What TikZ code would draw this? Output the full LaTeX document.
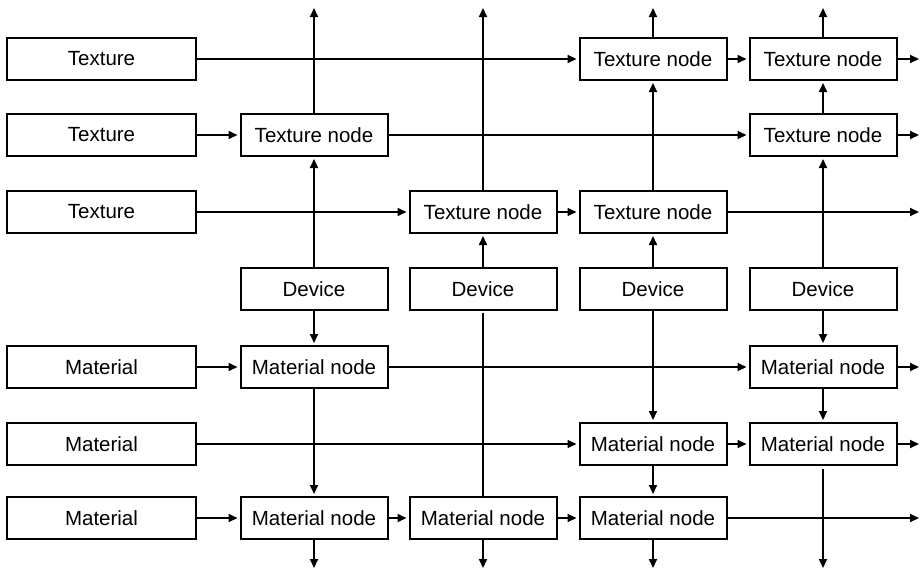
\documentclass[tikz,border=0pt]{standalone}
\usepackage{fontspec}
\setmainfont{Liberation Sans}
\usetikzlibrary{arrows.meta}
\begin{document}
\begin{tikzpicture}[x=1pt,y=-1pt,
  box/.style={draw,line width=2pt,minimum height=42pt,inner sep=0pt,font=\fontsize{20.5}{24}\selectfont},
  src/.style={box,minimum width=189pt},
  nd/.style={box,minimum width=147pt},
  conn/.style={line width=2pt,-{Triangle[length=9pt,width=8pt]},shorten >=2pt},
  plain/.style={line width=2pt}]
\useasboundingbox (0,0) rectangle (921,573);
% source boxes
\node[src] (s1) at (101.5,59) {Texture};
\node[src] (s2) at (101.5,135) {Texture};
\node[src] (s3) at (101.5,212) {Texture};
\node[src] (s5) at (101.5,367) {Material};
\node[src] (s6) at (101.5,444) {Material};
\node[src] (s7) at (101.5,518) {Material};
% texture nodes
\node[nd] (t31) at (653,59) {Texture node};
\node[nd] (t41) at (823,59) {Texture node};
\node[nd] (t12) at (314,135) {Texture node};
\node[nd] (t42) at (823,135) {Texture node};
\node[nd] (t23) at (483,212) {Texture node};
\node[nd] (t33) at (653,212) {Texture node};
% devices
\node[nd] (d1) at (314,289) {Device};
\node[nd] (d2) at (483,289) {Device};
\node[nd] (d3) at (653,289) {Device};
\node[nd] (d4) at (823,289) {Device};
% material nodes
\node[nd] (m15) at (314,367) {Material node};
\node[nd] (m45) at (823,367) {Material node};
\node[nd] (m36) at (653,444) {Material node};
\node[nd] (m46) at (823,444) {Material node};
\node[nd] (m17) at (314,518) {Material node};
\node[nd] (m27) at (483,518) {Material node};
\node[nd] (m37) at (653,518) {Material node};
% free ends
\coordinate (top1) at (314,6);
\coordinate (top2) at (483,6);
\coordinate (top3) at (653,6);
\coordinate (top4) at (823,6);
\coordinate (bot1) at (314,570);
\coordinate (bot2) at (483,570);
\coordinate (bot3) at (653,570);
\coordinate (bot4) at (823,570);
\coordinate (r1) at (921,59);
\coordinate (r2) at (921,135);
\coordinate (r3) at (921,212);
\coordinate (r5) at (921,367);
\coordinate (r6) at (921,444);
\coordinate (r7) at (921,518);
% horizontal connectors
\draw[conn] (s1.east) -- (t31.west);
\draw[conn] (t31.east) -- (t41.west);
\draw[conn] (t41.east) -- (r1);
\draw[conn] (s2.east) -- (t12.west);
\draw[conn] (t12.east) -- (t42.west);
\draw[conn] (t42.east) -- (r2);
\draw[conn] (s3.east) -- (t23.west);
\draw[conn] (t23.east) -- (t33.west);
\draw[conn] (t33.east) -- (r3);
\draw[conn] (s5.east) -- (m15.west);
\draw[conn] (m15.east) -- (m45.west);
\draw[conn] (m45.east) -- (r5);
\draw[conn] (s6.east) -- (m36.west);
\draw[conn] (m36.east) -- (m46.west);
\draw[conn] (m46.east) -- (r6);
\draw[conn] (s7.east) -- (m17.west);
\draw[conn] (m17.east) -- (m27.west);
\draw[conn] (m27.east) -- (m37.west);
\draw[conn] (m37.east) -- (r7);
% column 1
\draw[conn] (d1.north) -- (t12.south);
\draw[conn] (t12.north) -- (top1);
\draw[conn] (d1.south) -- (m15.north);
\draw[conn] (m15.south) -- (m17.north);
\draw[conn] (m17.south) -- (bot1);
% column 2
\draw[conn] (d2.north) -- (t23.south);
\draw[conn] (t23.north) -- (top2);
\draw[plain,shorten <=2pt] (d2.south) -- (m27.north);
\draw[conn] (m27.south) -- (bot2);
% column 3
\draw[conn] (d3.north) -- (t33.south);
\draw[conn] (t33.north) -- (t31.south);
\draw[conn] (t31.north) -- (top3);
\draw[conn] (d3.south) -- (m36.north);
\draw[conn] (m36.south) -- (m37.north);
\draw[conn] (m37.south) -- (bot3);
% column 4
\draw[conn] (d4.north) -- (t42.south);
\draw[conn] (t42.north) -- (t41.south);
\draw[conn] (t41.north) -- (top4);
\draw[conn] (d4.south) -- (m45.north);
\draw[conn] (m45.south) -- (m46.north);
\draw[conn,shorten <=3pt] (m46.south) -- (bot4);
\end{tikzpicture}
\end{document}
